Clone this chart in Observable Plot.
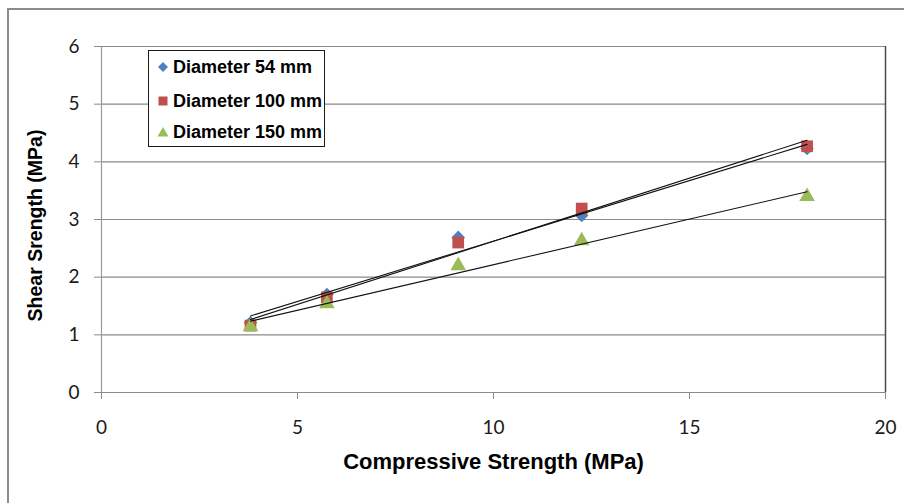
<!DOCTYPE html>
<html>
<head>
<meta charset="utf-8">
<script src="https://cdn.jsdelivr.net/npm/d3@7"></script>
<script src="https://cdn.jsdelivr.net/npm/@observablehq/plot@0.6"></script>
<style>
  html, body { margin: 0; padding: 0; background: #fff; }
  #wrap { position: relative; width: 904px; height: 503px; overflow: hidden; background: #fff; }
  #frame { position: absolute; left: 7px; top: 8px; width: 960px; height: 560px; border: 2px solid #8c8c8c; box-sizing: border-box; pointer-events: none; }
  #chart { position: absolute; left: 0; top: 0; }
  #legend { position: absolute; left: 148px; top: 50px; width: 177px; height: 97px; border: 1px solid #1a1a1a; box-sizing: border-box; background: #fff;
    font-family: "Liberation Sans", Arial, sans-serif; font-weight: bold; font-size: 18px; color: #000; }
  .row { position: absolute; left: 0; height: 20px; display: flex; align-items: center; white-space: nowrap; }
  .row svg { margin-left: 8px; margin-right: 4px; }
</style>
</head>
<body>
<div id="wrap">
  <div id="chart"></div>
  <div id="legend"></div>
  <div id="frame"></div>
</div>
<script>
// Data
const compressive = [3.8, 5.75, 9.1, 12.25, 18.0];
const shear54  = [1.21, 1.70, 2.69, 3.07, 4.23];
const shear100 = [1.16, 1.65, 2.60, 3.19, 4.27];
const shear150 = [1.14, 1.54, 2.20, 2.63, 3.40];
const seriesNames = ["Diameter 54 mm", "Diameter 100 mm", "Diameter 150 mm"];
const seriesColors = ["#4F81BD", "#C0504D", "#9BBB59"];
const xTicks = [0, 5, 10, 15, 20];
const yTicks = [0, 1, 2, 3, 4, 5, 6];
const xTitle = "Compressive Strength (MPa)";
const yTitle = "Shear Srength (MPa)";

const allSeries = [shear54, shear100, shear150];
const rows = [];
allSeries.forEach((ys, i) => ys.forEach((y, j) => rows.push({series: seriesNames[i], x: compressive[j], y})));
const bySeries = name => rows.filter(d => d.series === name);

const tickFont = "Lato, 'Open Sans', sans-serif";
const titleFont = "'Liberation Sans', Arial, sans-serif";

const chart = Plot.plot({
  width: 904,
  height: 503,
  marginLeft: 101,
  marginRight: 19,
  marginTop: 46,
  marginBottom: 111,
  x: {domain: [0, 20]},
  y: {domain: [0, 6]},
  style: {background: "transparent", fontFamily: tickFont},
  marks: [
    Plot.ruleY(yTicks, {stroke: "#8a8a8a", strokeWidth: 1.2}),
    Plot.ruleX([0], {stroke: "#9a9a9a", strokeWidth: 1.2}),
    Plot.ruleX([20], {stroke: "#4a4a4a", strokeWidth: 1.5}),
    Plot.axisX({ticks: xTicks, tickSize: 7, tickPadding: 21, stroke: "#8a8a8a", fill: "#1a1a1a", fontSize: 19, label: null, tickFormat: d3.format("d")}),
    Plot.axisY({ticks: yTicks, tickSize: 7, tickPadding: 15, stroke: "#8a8a8a", fill: "#1a1a1a", fontSize: 19, label: null, tickFormat: d3.format("d")}),
    Plot.dot(bySeries(seriesNames[0]), {x: "x", y: "y", symbol: "square", rotate: 45, r: 5.4, fill: seriesColors[0]}),
    Plot.dot(bySeries(seriesNames[1]), {x: "x", y: "y", symbol: "square", r: 6.6, fill: seriesColors[1]}),
    Plot.dot(bySeries(seriesNames[2]), {x: "x", y: "y", symbol: "triangle", r: 5.8, fill: seriesColors[2]}),
    Plot.linearRegressionY(bySeries(seriesNames[0]), {x: "x", y: "y", stroke: "#111", strokeWidth: 1.1, ci: 0}),
    Plot.linearRegressionY(bySeries(seriesNames[1]), {x: "x", y: "y", stroke: "#111", strokeWidth: 1.1, ci: 0}),
    Plot.linearRegressionY(bySeries(seriesNames[2]), {x: "x", y: "y", stroke: "#111", strokeWidth: 1.1, ci: 0}),
    Plot.text([xTitle], {frameAnchor: "bottom", dy: 76, text: d => d, textAnchor: "middle", fontFamily: titleFont, fontWeight: "bold", fontSize: 22, letterSpacing: -0.3, fill: "#000"}),
    Plot.text([yTitle], {frameAnchor: "left", dx: -66, dy: 6, rotate: -90, text: d => d, textAnchor: "middle", fontFamily: titleFont, fontWeight: "bold", fontSize: 19.5, fill: "#000"})
  ]
});
document.getElementById("chart").appendChild(chart);

// Legend (HTML overlay)
const legend = document.getElementById("legend");
const symbols = ["diamond", "square", "triangle"];
const rowCenters = [16, 50, 81];
seriesNames.forEach((name, i) => {
  const row = document.createElement("div");
  row.className = "row";
  row.style.top = (rowCenters[i] - 10) + "px";
  const s = d3.create("svg").attr("width", 12).attr("height", 12);
  const g = s.append("g").attr("transform", "translate(6,6)");
  if (symbols[i] === "diamond") g.append("path").attr("d", "M0,-5L5,0L0,5L-5,0Z").attr("fill", seriesColors[i]);
  else if (symbols[i] === "square") g.append("rect").attr("x", -4.5).attr("y", -4.5).attr("width", 9).attr("height", 9).attr("fill", seriesColors[i]);
  else g.append("path").attr("d", "M0,-5L5.5,4.5L-5.5,4.5Z").attr("fill", seriesColors[i]);
  row.appendChild(s.node());
  const t = document.createElement("span");
  t.textContent = name;
  row.appendChild(t);
  legend.appendChild(row);
});
</script>
</body>
</html>
